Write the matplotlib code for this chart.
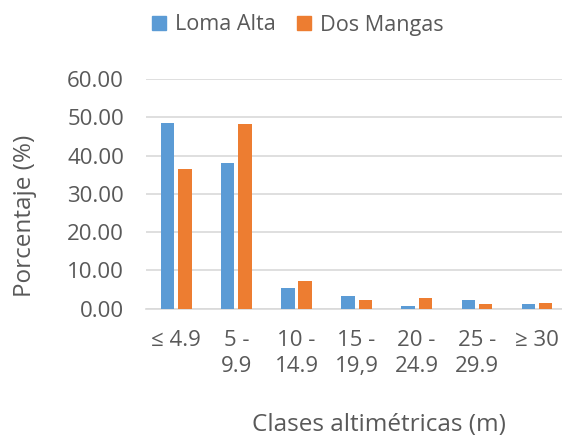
import matplotlib
matplotlib.use("Agg")
import matplotlib.pyplot as plt
import numpy as np
from matplotlib.patches import Patch

categories = ["≤ 4.9", "5 -\n9.9", "10 -\n14.9", "15 -\n19,9", "20 -\n24.9", "25 -\n29.9", "≥ 30"]
loma_alta = [48.5, 38.0, 5.4, 3.3, 0.7, 2.3, 1.2]
dos_mangas = [36.6, 48.2, 7.2, 2.2, 2.7, 1.2, 1.4]
series_names = ["Loma Alta", "Dos Mangas"]
yticks = [0, 10, 20, 30, 40, 50, 60]

plt.rcParams['font.family'] = ['Open Sans', 'DejaVu Sans']
blue = "#5B9BD5"
orange = "#ED7D31"
txt = "#595959"

fig = plt.figure(figsize=(5.62, 4.44), dpi=100)
ax = fig.add_axes([146.3/562, 1-308.7/444, (566.9-146.3)/562, (308.7-79)/444])

x = np.arange(len(categories))
w = 0.22
off = 0.143
ax.bar(x - off, loma_alta, w, color=blue, zorder=3)
ax.bar(x + off, dos_mangas, w, color=orange, zorder=3)

ax.set_xlim(-0.5, len(categories) - 0.5)
ax.set_ylim(0, 60)
ax.set_yticks(yticks)
ax.set_yticklabels([f"{v:.2f}" for v in yticks])
ax.set_xticks(x)
ax.set_xticklabels(categories, linespacing=1.35)
ax.yaxis.grid(True, color="#D9D9D9", linewidth=1.2, zorder=0)
for s in ["top", "right", "left"]:
    ax.spines[s].set_visible(False)
ax.spines["bottom"].set_color("#D9D9D9")
ax.spines["bottom"].set_linewidth(1.2)
ax.tick_params(axis="both", length=0, labelsize=16, colors=txt)
ax.tick_params(axis="y", pad=16)
ax.tick_params(axis="x", pad=15)

fig.text(25/562, 1-216/444, "Porcentaje (%)", rotation=90, ha="center", va="center",
         fontsize=17.5, color=txt)
fig.text(379/562, 1-425/444, "Clases altimétricas (m)", ha="center", va="center",
         fontsize=17.5, color=txt)

handles = [Patch(color=blue), Patch(color=orange)]
fig.legend(handles, series_names, loc="center", bbox_to_anchor=(298/562, 1-25/444),
           ncol=2, frameon=False, fontsize=15.6, labelcolor=txt,
           handlelength=0.65, handleheight=0.65, handletextpad=0.4, columnspacing=1.0)

fig.savefig("out.png", dpi=100)
